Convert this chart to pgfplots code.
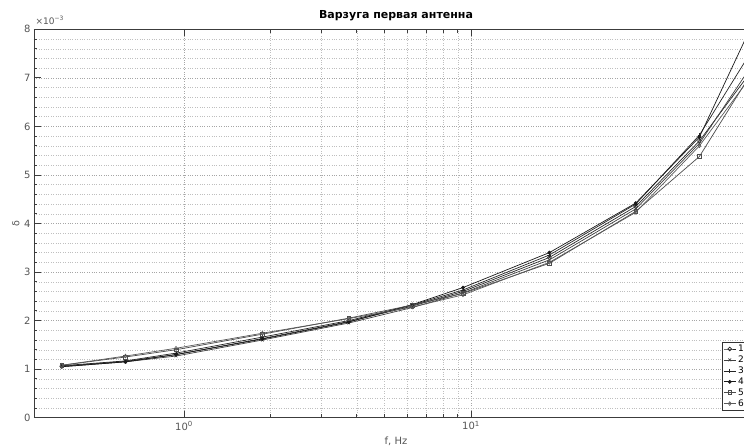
\documentclass[border=0pt]{standalone}
\usepackage{fontspec}
\setmainfont{DejaVu Sans}
\usepackage{pgfplots}
\pgfplotsset{compat=1.18}

\definecolor{axgray}{RGB}{60,60,60}
\definecolor{lblgray}{RGB}{85,85,85}

\begin{document}
\begin{tikzpicture}
\begin{axis}[
  scale only axis,
  width=724pt, height=388.4pt,
  xmode=log, xmin=0.3, xmax=100,
  ymin=0, ymax=8,
  ytick={0,1,...,8},
  minor y tick num=4,
  xtick={1,10},
  xticklabels={10\textsuperscript{0},10\textsuperscript{1}},
  /pgf/number format/assume math mode=true,
  tick label style={font=\fontsize{10}{11}\selectfont, text=lblgray},
  axis line style={axgray, line width=0.9pt},
  tick style={axgray, line width=0.8pt},
  major tick length=7pt, minor tick length=3.5pt,
  xmajorgrids, xminorgrids, ymajorgrids, yminorgrids,
  major grid style={dotted, black!35},
  minor grid style={dotted, black!25},
  title={Варзуга первая антенна},
  title style={at={(axis description cs:0.5,1)}, anchor=base, yshift=4.5pt,
    font=\bfseries\fontsize{11}{13}\selectfont},
  xlabel={f, Hz},
  xlabel style={at={(axis description cs:0.5,0)}, anchor=center, yshift=-24pt,
    font=\fontsize{10}{11}\selectfont, text=lblgray},
  ylabel={δ},
  ylabel style={at={(axis description cs:-0.025,0.5)}, anchor=center,
    font=\fontsize{9.5}{11}\selectfont, text=lblgray},
  legend cell align=left,
  legend style={at={(axis description cs:0.9503,0.017)}, anchor=south west,
    font=\fontsize{9}{10}\selectfont, draw=black!80, line width=0.8pt,
    inner sep=1pt, row sep=-1.2pt,
    legend image code/.code={\draw[mark repeat=2,mark phase=2,line width=0.7pt]
      plot coordinates {(0cm,0cm) (0.21cm,0cm) (0.42cm,0cm)};}},
  every axis plot/.append style={line width=0.7pt, mark size=1.9pt,
    mark options={solid, line width=0.6pt}},
  clip mode=individual,
]
\addplot[black!85, mark=o] coordinates {(0.375,1.06) (0.625,1.16) (0.9375,1.30) (1.875,1.63) (3.75,1.98) (6.25,2.30) (9.375,2.60) (18.75,3.30) (37.5,4.35) (62.5,5.70) (93.75,7.10)};
\addlegendentry{1}
\addplot[black!75, mark=x] coordinates {(0.375,1.05) (0.625,1.15) (0.9375,1.27) (1.875,1.60) (3.75,1.95) (6.25,2.27) (9.375,2.57) (18.75,3.25) (37.5,4.30) (62.5,5.65) (93.75,7.20)};
\addlegendentry{2}
\addplot[black!85, mark=+] coordinates {(0.375,1.07) (0.625,1.17) (0.9375,1.33) (1.875,1.66) (3.75,2.00) (6.25,2.32) (9.375,2.63) (18.75,3.35) (37.5,4.40) (62.5,5.82) (93.75,7.50)};
\addlegendentry{3}
\addplot[black!90, mark=*, mark size=1.6pt] coordinates {(0.375,1.05) (0.625,1.15) (0.9375,1.30) (1.875,1.62) (3.75,1.97) (6.25,2.33) (9.375,2.68) (18.75,3.40) (37.5,4.42) (62.5,5.78) (93.75,8.00)};
\addlegendentry{4}
\addplot[black!70, mark=square] coordinates {(0.375,1.08) (0.625,1.25) (0.9375,1.40) (1.875,1.72) (3.75,2.05) (6.25,2.32) (9.375,2.56) (18.75,3.18) (37.5,4.25) (62.5,5.38) (93.75,7.05)};
\addlegendentry{5}
\addplot[black!65, mark=diamond] coordinates {(0.375,1.08) (0.625,1.27) (0.9375,1.43) (1.875,1.74) (3.75,2.04) (6.25,2.28) (9.375,2.53) (18.75,3.20) (37.5,4.23) (62.5,5.60) (93.75,7.00)};
\addlegendentry{6}
\node[anchor=south west, inner sep=0pt, text=lblgray, font=\fontsize{9}{10}\selectfont]
  at (axis description cs:0.002,1.012) {×10\textsuperscript{−3}};
\end{axis}
\pgfresetboundingbox
\path[use as bounding box] ([xshift=-34pt,yshift=-29.3pt]current axis.south west)
  rectangle ([xshift=710pt,yshift=29.3pt]current axis.north west);
\end{tikzpicture}
\end{document}
